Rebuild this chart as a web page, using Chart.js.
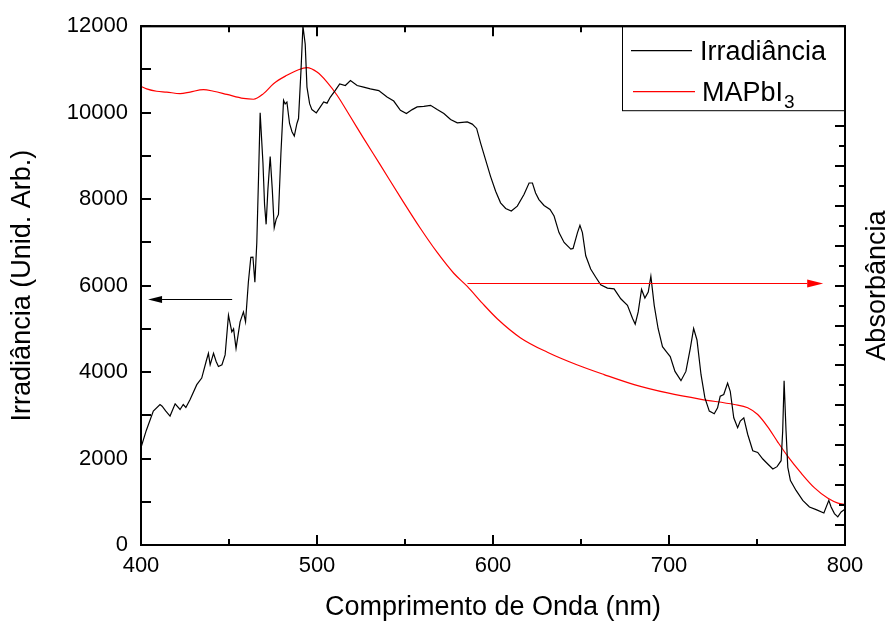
<!DOCTYPE html>
<html>
<head>
<meta charset="utf-8">
<script src="https://cdn.jsdelivr.net/npm/chart.js@4.4.0/dist/chart.umd.min.js"></script>
<style>
  html, body { margin: 0; padding: 0; background: #fff; }
  #wrap { width: 893px; height: 624px; }
</style>
</head>
<body>
<div id="wrap"><canvas id="irrChart" width="893" height="624"></canvas></div>
<script>
// Irradiance spectrum (wavelength in nm, arbitrary units)
const irrWl = [400, 403, 407, 410.8, 412, 414, 416.5, 419.4, 422.2, 424, 425.5, 427.9, 431.7, 434.5, 437, 438.3, 439.3, 441.2, 442.7, 444, 446, 447.8, 449.7, 451.6, 452.6, 454, 456.3, 458.2, 459.4, 461, 462.4, 463.6, 464.7, 465.8, 466.8, 467.7, 469.3, 470.2, 471.1, 472.1, 473.4, 474.6, 475.7, 476.8, 478.1, 479.5, 481, 481.9, 482.9, 484.4, 485.8, 487.1, 488.6, 489.5, 490.9, 492, 493.3, 494.3, 495.8, 497.1, 499.6, 501.9, 503.8, 505.7, 507.6, 510.4, 512.9, 516.1, 519, 522.8, 526.5, 530.3, 535.1, 539.8, 543.6, 547.4, 550.8, 554.1, 556.9, 560.7, 564.5, 568.3, 572.1, 575.9, 579.7, 585.4, 588.2, 590.7, 593, 595.8, 598.6, 601.5, 604.3, 607.2, 610.4, 613.8, 617.6, 620.5, 622.4, 624.2, 626.1, 629, 632.4, 634.7, 637.5, 640.4, 644.2, 645.5, 648, 649.4, 650.8, 652.7, 655.5, 658.4, 661.2, 665, 668.8, 672.6, 676.4, 679.3, 680.8, 682.5, 684.4, 686.3, 688.2, 689.7, 691.6, 693.8, 696.3, 698.8, 700.7, 703.4, 706.8, 709.6, 712.1, 714, 715.9, 718.2, 720.4, 722.9, 725.7, 727.6, 729.1, 731.1, 733.3, 734.8, 736.8, 739, 740.5, 742.5, 744.7, 747.6, 750.4, 753.3, 756.1, 759, 761.4, 763.7, 764.6, 765.4, 766.5, 767.5, 769, 772.2, 776, 779.8, 783.6, 788, 790.8, 792.1, 794, 795.9, 797.8, 799.7];
const irrVals = [2255, 2650, 3097, 3250, 3211, 3100, 2982, 3265, 3135, 3250, 3180, 3365, 3709, 3861, 4244, 4434, 4168, 4434, 4244, 4129, 4168, 4397, 5315, 4932, 5000, 4549, 5162, 5391, 5162, 6079, 6653, 6660, 6079, 6997, 8527, 9995, 8832, 7876, 7417, 8220, 8985, 8220, 7341, 7532, 7646, 9061, 10284, 10200, 10246, 9750, 9559, 9458, 9750, 9864, 10972, 12000, 11585, 10591, 10208, 10071, 9995, 10132, 10246, 10220, 10361, 10514, 10667, 10629, 10743, 10629, 10591, 10552, 10510, 10361, 10269, 10055, 9979, 10071, 10132, 10147, 10170, 10071, 9979, 9842, 9765, 9788, 9735, 9635, 9291, 8908, 8527, 8183, 7914, 7784, 7724, 7838, 8105, 8373, 8373, 8144, 7990, 7853, 7761, 7609, 7226, 6997, 6843, 6860, 7226, 7394, 7226, 6691, 6385, 6194, 6017, 5941, 5925, 5696, 5544, 5237, 5109, 5391, 5911, 5712, 5850, 6217, 5544, 5008, 4588, 4458, 4359, 4015, 3801, 4015, 4549, 5008, 4742, 3939, 3402, 3097, 3035, 3173, 3441, 3480, 3746, 3556, 2943, 2714, 2868, 2943, 2562, 2179, 2140, 1989, 1874, 1760, 1812, 1950, 2638, 3800, 2638, 1796, 1491, 1262, 1032, 879, 819, 741, 1032, 879, 727, 650, 764, 819];

// MAPbI3 absorbance (right axis, unlabeled)
const absWl = [400, 403.2, 408.9, 414.6, 422.2, 427.9, 435.5, 441.2, 448.8, 458.2, 463.9, 469.6, 475.3, 482.9, 489.5, 494.3, 500, 505.7, 511.4, 519, 526.5, 535.6, 549.3, 558.8, 568.3, 577.7, 585.4, 593.9, 602.4, 615.7, 630.9, 648, 663.1, 680.2, 699.2, 718.2, 737.1, 744.7, 750.4, 756.1, 761.8, 767.5, 775.1, 782.7, 790.3, 796, 800];
const absVals = [1.149, 1.143, 1.137, 1.135, 1.131, 1.135, 1.141, 1.137, 1.129, 1.119, 1.117, 1.131, 1.156, 1.177, 1.191, 1.196, 1.185, 1.160, 1.127, 1.073, 1.019, 0.955, 0.858, 0.793, 0.733, 0.681, 0.648, 0.606, 0.567, 0.519, 0.483, 0.451, 0.427, 0.402, 0.381, 0.365, 0.352, 0.344, 0.327, 0.296, 0.258, 0.222, 0.180, 0.143, 0.117, 0.105, 0.102];

const xTicks = [400, 500, 600, 700, 800];
const yTicks = [0, 2000, 4000, 6000, 8000, 10000, 12000];

// arrows: [x start, x end, y] in data units of x / left axis
const leftArrow = [451.8, 404, 5690];
const rightArrow = [585.5, 787.6, 6056];

const FONT = "Arial, 'Liberation Sans', sans-serif";

// frame, inward ticks, arrows, legend and right title
const decorPlugin = {
  id: "decor",
  afterDraw(chart) {
    const ctx = chart.ctx;
    const a = chart.chartArea;
    const xs = chart.scales.x, ys = chart.scales.y, y2 = chart.scales.y2;
    ctx.save();
    ctx.strokeStyle = "#000";
    ctx.lineWidth = 2;

    // x ticks top and bottom
    for (let v = 400; v <= 800; v += 50) {
      const px = Math.round(xs.getPixelForValue(v));
      const len = v % 100 === 0 ? 10 : 6;
      ctx.beginPath();
      ctx.moveTo(px, a.bottom); ctx.lineTo(px, a.bottom - len);
      ctx.moveTo(px, a.top); ctx.lineTo(px, a.top + len);
      ctx.stroke();
    }
    // left ticks
    for (let v = 0; v <= 12000; v += 1000) {
      const py = Math.round(ys.getPixelForValue(v));
      ctx.beginPath();
      ctx.moveTo(a.left, py); ctx.lineTo(a.left + 10, py);
      ctx.stroke();
    }
    // right ticks
    for (let i = 0; i <= 26; i++) {
      const py = Math.round(y2.getPixelForValue(1.3 - i * 0.05));
      const len = i % 2 === 0 ? 6 : 10;
      ctx.beginPath();
      ctx.moveTo(a.right, py); ctx.lineTo(a.right - len, py);
      ctx.stroke();
    }
    // frame
    ctx.strokeRect(a.left, a.top, a.right - a.left, a.bottom - a.top);

    // arrows
    function arrow(spec, color, headLen, headW) {
      const x0 = xs.getPixelForValue(spec[0]);
      const x1 = xs.getPixelForValue(spec[1]);
      const py = Math.round(ys.getPixelForValue(spec[2])) + 0.5;
      const dir = Math.sign(x1 - x0);
      ctx.strokeStyle = color;
      ctx.fillStyle = color;
      ctx.lineWidth = 1;
      ctx.beginPath();
      ctx.moveTo(x0, py); ctx.lineTo(x1 - dir * headLen, py);
      ctx.stroke();
      ctx.beginPath();
      ctx.moveTo(x1, py);
      ctx.lineTo(x1 - dir * headLen, py - headW);
      ctx.lineTo(x1 - dir * headLen, py + headW);
      ctx.closePath();
      ctx.fill();
    }
    arrow(leftArrow, "#000", 14, 3.5);
    arrow(rightArrow, "#ff0000", 16, 4);

    // legend
    const lx = a.right - 223, ly = a.top, lw = 223, lh = 84;
    ctx.fillStyle = "#fff";
    ctx.fillRect(lx, ly, lw, lh);
    ctx.strokeStyle = "#000";
    ctx.lineWidth = 1;
    ctx.strokeRect(lx + 0.5, ly + 0.5, lw - 1, lh);
    ctx.lineWidth = 2;
    ctx.strokeRect(a.left, a.top, a.right - a.left, a.bottom - a.top);
    const ds = chart.data.datasets;
    ctx.lineWidth = 1.2;
    ctx.strokeStyle = ds[0].borderColor;
    ctx.beginPath(); ctx.moveTo(lx + 9, ly + 24.5); ctx.lineTo(lx + 70, ly + 24.5); ctx.stroke();
    ctx.strokeStyle = ds[1].borderColor;
    ctx.beginPath(); ctx.moveTo(lx + 11, ly + 65.5); ctx.lineTo(lx + 73, ly + 65.5); ctx.stroke();
    ctx.fillStyle = "#000";
    ctx.textBaseline = "alphabetic";
    ctx.textAlign = "left";
    ctx.font = "27px " + FONT;
    ctx.fillText(ds[0].label, lx + 78, ly + 34);
    ctx.fillText("MAPbI", lx + 80, ly + 75);
    const w = ctx.measureText("MAPbI").width;
    ctx.font = "19px " + FONT;
    ctx.fillText("3", lx + 80 + w + 1, ly + 82);

    // right axis title
    ctx.save();
    ctx.translate(878, (a.top + a.bottom) / 2);
    ctx.rotate(-Math.PI / 2);
    ctx.font = "27px " + FONT;
    ctx.textAlign = "center";
    ctx.textBaseline = "middle";
    ctx.fillText("Absorbância", 0, 0);
    ctx.restore();

    ctx.restore();
  }
};

const ctx = document.getElementById("irrChart").getContext("2d");

new Chart(ctx, {
  type: "line",
  data: {
    datasets: [
      {
        label: "Irradiância",
        data: irrWl.map((w, i) => ({ x: w, y: irrVals[i] })),
        borderColor: "#000000",
        borderWidth: 1.2,
        pointRadius: 0,
        tension: 0,
        yAxisID: "y",
      },
      {
        label: "MAPbI3",
        data: absWl.map((w, i) => ({ x: w, y: absVals[i] })),
        borderColor: "#ff0000",
        borderWidth: 1.2,
        pointRadius: 0,
        cubicInterpolationMode: "monotone",
        yAxisID: "y2",
      },
    ],
  },
  options: {
    responsive: false,
    animation: false,
    devicePixelRatio: 1,
    layout: { padding: { top: 22, left: 0, right: 0, bottom: 0 } },
    plugins: {
      legend: { display: false },
      tooltip: { enabled: false },
    },
    scales: {
      x: {
        type: "linear",
        position: "bottom",
        min: 400,
        max: 800,
        afterBuildTicks: (s) => { s.ticks = xTicks.map((v) => ({ value: v })); },
        ticks: {
          color: "#000",
          padding: 8,
          font: { size: 22, family: FONT },
          callback: (v) => String(v),
        },
        grid: { display: false, drawTicks: false },
        border: { display: false },
        title: {
          display: true,
          text: "Comprimento de Onda (nm)",
          color: "#000",
          padding: { top: 0, bottom: 0 },
          font: { size: 27, family: FONT },
        },
        afterFit: (s) => { s.height = 79; },
      },
      y: {
        position: "left",
        min: 0,
        max: 12000,
        afterBuildTicks: (s) => { s.ticks = yTicks.map((v) => ({ value: v })); },
        ticks: {
          color: "#000",
          padding: 13,
          font: { size: 22, family: FONT },
          callback: (v) => String(v),
        },
        grid: { display: false, drawTicks: false },
        border: { display: false },
        title: {
          display: true,
          text: "Irradiância (Unid. Arb.)",
          color: "#000",
          padding: { top: 6, bottom: 0 },
          font: { size: 27, family: FONT },
        },
        afterFit: (s) => { s.width = 141; },
      },
      y2: {
        position: "right",
        min: 0,
        max: 1.3,
        ticks: { display: false },
        grid: { display: false, drawTicks: false },
        border: { display: false },
        afterFit: (s) => { s.width = 48; },
      },
    },
  },
  plugins: [decorPlugin],
});
</script>
</body>
</html>
